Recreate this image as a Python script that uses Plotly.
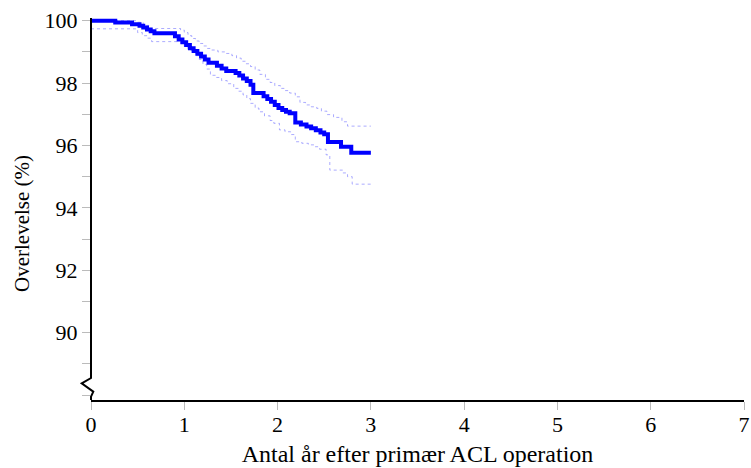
import plotly.graph_objects as go

# Kaplan-Meier survival (years after primary ACL operation, survival %)
main_t = [0, 0.26, 0.44, 0.52, 0.56, 0.60, 0.64, 0.68, 0.90, 0.94, 0.98, 1.02, 1.06, 1.10, 1.14, 1.18,
          1.22, 1.26, 1.35, 1.40, 1.45, 1.55, 1.59, 1.63, 1.67, 1.71, 1.74, 1.85, 1.89, 1.93, 1.97, 2.01,
          2.05, 2.09, 2.13, 2.19, 2.25, 2.31, 2.36, 2.41, 2.46, 2.50, 2.54, 2.68, 2.79, 3.00]
main_v = [100, 99.94, 99.89, 99.84, 99.78, 99.72, 99.66, 99.60, 99.50, 99.40, 99.31, 99.22, 99.12, 99.03,
          98.94, 98.85, 98.76, 98.65, 98.56, 98.47, 98.39, 98.32, 98.24, 98.15, 98.07, 97.95, 97.68, 97.58,
          97.49, 97.40, 97.30, 97.20, 97.14, 97.08, 97.03, 96.74, 96.67, 96.61, 96.55, 96.49, 96.42, 96.36,
          96.11, 95.96, 95.77, 95.77]

upper_t = [0, 0.50, 0.56, 0.62, 0.96, 1.00, 1.04, 1.08, 1.12, 1.16, 1.20, 1.24, 1.28, 1.36, 1.44, 1.51,
           1.56, 1.61, 1.66, 1.71, 1.76, 1.81, 1.87, 1.92, 1.97, 2.03, 2.08, 2.13, 2.19, 2.24, 2.30, 2.36,
           2.42, 2.47, 2.53, 2.60, 2.69, 2.75, 3.00]
upper_v = [100, 99.95, 99.85, 99.75, 99.70, 99.62, 99.52, 99.43, 99.35, 99.27, 99.19, 99.11, 99.06, 99.00,
           98.95, 98.88, 98.80, 98.70, 98.62, 98.53, 98.42, 98.28, 98.12, 98.02, 97.92, 97.83, 97.76, 97.68,
           97.56, 97.38, 97.30, 97.24, 97.19, 97.10, 96.99, 96.90, 96.76, 96.62, 96.62]

lower_t = [0, 0.50, 0.55, 0.60, 0.65, 0.96, 1.00, 1.04, 1.08, 1.12, 1.16, 1.20, 1.24, 1.28, 1.34, 1.40,
           1.46, 1.53, 1.58, 1.63, 1.67, 1.71, 1.76, 1.80, 1.86, 1.92, 1.96, 2.02, 2.08, 2.14, 2.19, 2.26,
           2.33, 2.39, 2.45, 2.52, 2.56, 2.70, 2.75, 2.80, 3.00]
lower_v = [99.74, 99.62, 99.52, 99.44, 99.33, 99.27, 99.17, 99.07, 98.98, 98.88, 98.76, 98.60, 98.45, 98.25,
           98.18, 98.08, 97.98, 97.83, 97.74, 97.62, 97.50, 97.35, 97.20, 97.08, 96.95, 96.80, 96.71, 96.50,
           96.44, 96.35, 96.12, 96.07, 96.02, 95.96, 95.88, 95.70, 95.21, 95.12, 95.00, 94.76, 94.76]

x_ticks = [0, 1, 2, 3, 4, 5, 6, 7]
y_ticks = [90, 92, 94, 96, 98, 100]

x_title = "Antal år efter primær ACL operation"
y_title = "Overlevelse (%)"

W, H = 751, 468
ML, MR, MT, MB = 91, 7, 18, 68
PW, PH = W - ML - MR, H - MT - MB

def px2paper(px, py):
    return (px - ML) / PW, (H - MB - py) / PH

fig = go.Figure()
ci_line = dict(color="rgba(90,90,255,0.5)", width=1, dash="dot", shape="hv")
fig.add_trace(go.Scatter(x=upper_t, y=upper_v, mode="lines", line=ci_line, hoverinfo="skip"))
fig.add_trace(go.Scatter(x=lower_t, y=lower_v, mode="lines", line=ci_line, hoverinfo="skip"))
fig.add_trace(go.Scatter(x=main_t, y=main_v, mode="lines",
                         line=dict(color="#0000ff", width=4, shape="hv")))

# y-axis line with break symbol
pts = [(ML, MT), (ML, 378), (81.7, 383.3), (93.3, 391.7), (ML, 396.7), (ML, H - MB)]
path = ""
for i, (a, b) in enumerate(pts):
    xp, yp = px2paper(a, b)
    path += ("M" if i == 0 else "L") + f"{xp:.5f},{yp:.5f} "
fig.add_shape(type="path", path=path.strip(), xref="paper", yref="paper",
              line=dict(color="black", width=2), layer="above")

# y-axis title placed as annotation
ytx, yty = px2paper(22, 224)
fig.add_annotation(text=y_title, xref="paper", yref="paper", x=ytx, y=yty, textangle=-90,
                   showarrow=False, xanchor="center", yanchor="middle",
                   font=dict(family="Liberation Serif", size=21, color="black"))

tick_font = dict(family="Liberation Serif", size=22, color="black")
fig.update_layout(
    width=W, height=H,
    margin=dict(l=ML, r=MR, t=MT, b=MB, autoexpand=False),
    paper_bgcolor="white", plot_bgcolor="white",
    showlegend=False,
    font=tick_font,
    xaxis=dict(range=[0, 7], tickvals=x_ticks, ticks="outside", ticklen=8, tickcolor="#bbbbbb",
               tickwidth=1, showline=True, linecolor="black", linewidth=2, showgrid=False,
               zeroline=False, tickfont=tick_font, automargin=False, ticklabelstandoff=-4,
               title=dict(text=x_title, font=dict(family="Liberation Serif", size=24, color="black"),
                          standoff=9)),
    yaxis=dict(range=[87.84, 100.087], tickvals=y_ticks, ticks="outside", ticklen=8,
               tickcolor="#bbbbbb", tickwidth=1, showline=False, showgrid=False, zeroline=False,
               minor=dict(dtick=1, tick0=0, ticks="outside", ticklen=8, tickcolor="#bbbbbb"),
               tickfont=tick_font, automargin=False),
)

fig.write_html("out.html", config={"displayModeBar": False},
               post_script="document.body.style.margin='0';document.body.style.overflow='hidden';")
